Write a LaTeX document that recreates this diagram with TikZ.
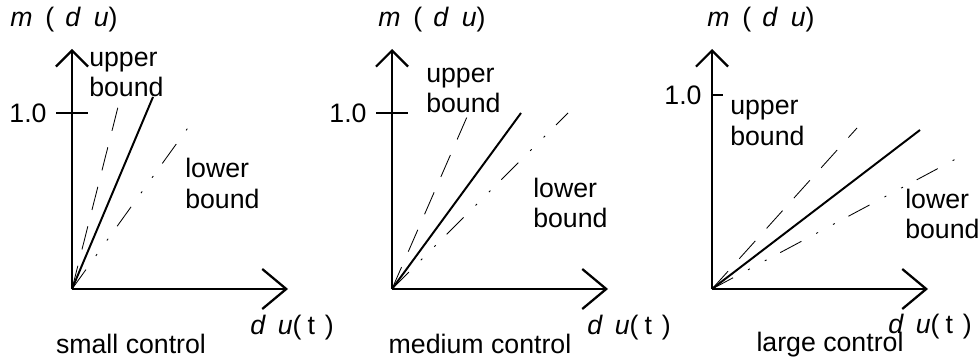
\documentclass[tikz,border=0pt]{standalone}
\usepackage{fontspec}
\setmainfont{Liberation Sans}
\usetikzlibrary{arrows.meta}
\newcommand{\mdu}{\textit{m}\hspace{0.32cm}(\hspace{0.28cm}\textit{d}\hspace{0.32cm}\textit{u})}
\newcommand{\dut}{\textit{d}\hspace{0.3cm}\textit{u}(\hspace{0.15cm}t\hspace{0.25cm})}
\tikzset{
  every picture/.style={line join=round, font=\fontsize{19}{21.5}\selectfont},
  yaxis/.style={line width=1.6pt, -{Straight Barb[length=4mm, width=8mm]}},
  xaxis/.style={line width=1.6pt, -{Straight Barb[length=6mm, width=10mm]}},
  tickmark/.style={line width=1.6pt},
  ctrl/.style={line width=1.4pt},
  upperline/.style={line width=0.6pt, dash pattern=on 17pt off 12pt},
  lowerline/.style={line width=0.6pt, dash pattern=on 17pt off 12pt on 1.5pt off 12pt on 1.5pt off 11pt},
  lbl/.style={align=left, anchor=west, inner sep=0pt},
}

\begin{document}
\begin{tikzpicture}
  \useasboundingbox (0,0) rectangle (24.475,9);
  % ---- small control
  \begin{scope}[shift={(1.8,1.775)}]
    \coordinate (o1) at (0,0);
    \coordinate (ytop1) at (0,6);
    \coordinate (xend1) at (5.4,0);
    \draw[yaxis] (o1) -- (ytop1);
    \draw[xaxis] (o1) -- (xend1);
    \coordinate (tl1) at (-0.4,4.4); \coordinate (tr1) at (0.4,4.4);
    \draw[tickmark] (tl1) -- (tr1);
    \node (one1) at (-1.1,4.4) {1.0};
    \coordinate (up1) at (1.15,4.55);
    \coordinate (mid1) at (2.025,4.8);
    \coordinate (low1) at (3.075,4.275);
    \draw[upperline] (o1) -- (up1);
    \draw[ctrl] (o1) -- (mid1);
    \draw[lowerline] (o1) -- (low1);
    \node[lbl] (ylab1) at (-1.55,6.725) {\mdu};
    \node[lbl] (ub1) at (0.425,5.36) {upper\\bound};
    \node[lbl] (lb1) at (2.825,2.64) {lower\\bound};
    \node[lbl] (xlab1) at (4.45,-0.97) {\dut};
    \node (cap1) at (1.475,-1.37) {small control};
  \end{scope}
  % ---- medium control
  \begin{scope}[shift={(9.8,1.775)}]
    \coordinate (o2) at (0,0);
    \coordinate (ytop2) at (0,6);
    \coordinate (xend2) at (5.4,0);
    \draw[yaxis] (o2) -- (ytop2);
    \draw[xaxis] (o2) -- (xend2);
    \coordinate (tl2) at (-0.4,4.4); \coordinate (tr2) at (0.4,4.4);
    \draw[tickmark] (tl2) -- (tr2);
    \node (one2) at (-1.1,4.4) {1.0};
    \coordinate (up2) at (1.95,4.475);
    \coordinate (mid2) at (3.225,4.4);
    \coordinate (low2) at (4.4,4.4);
    \draw[upperline] (o2) -- (up2);
    \draw[ctrl] (o2) -- (mid2);
    \draw[lowerline] (o2) -- (low2);
    \node[lbl] (ylab2) at (-0.35,6.725) {\mdu};
    \node[lbl] (ub2) at (0.85,4.96) {upper\\bound};
    \node[lbl] (lb2) at (3.525,2.16) {lower\\bound};
    \node[lbl] (xlab2) at (4.875,-0.97) {\dut};
    \node (cap2) at (2.2,-1.37) {medium control};
  \end{scope}
  % ---- large control
  \begin{scope}[shift={(17.8,1.775)}]
    \coordinate (o3) at (0,0);
    \coordinate (ytop3) at (0,6);
    \coordinate (xend3) at (5.4,0);
    \draw[yaxis] (o3) -- (ytop3);
    \draw[xaxis] (o3) -- (xend3);
    \coordinate (tl3) at (0,4.85); \coordinate (tr3) at (0.275,4.85);
    \draw[tickmark] (tl3) -- (tr3);
    \node (one3) at (-0.725,4.85) {1.0};
    \coordinate (up3) at (3.625,4.025);
    \coordinate (mid3) at (5.2,3.975);
    \coordinate (low3) at (6.375,3.4);
    \draw[upperline] (o3) -- (up3);
    \draw[ctrl] (o3) -- (mid3);
    \draw[lowerline] (o3) -- (low3);
    \node[lbl] (ylab3) at (-0.125,6.725) {\mdu};
    \node[lbl] (ub3) at (0.45,4.15) {upper\\bound};
    \node[lbl] (lb3) at (4.825,1.87) {lower\\bound};
    \node[lbl] (xlab3) at (4.4,-0.95) {\dut};
    \node (cap3) at (2.95,-1.4) {large control};
  \end{scope}
\end{tikzpicture}
\end{document}
